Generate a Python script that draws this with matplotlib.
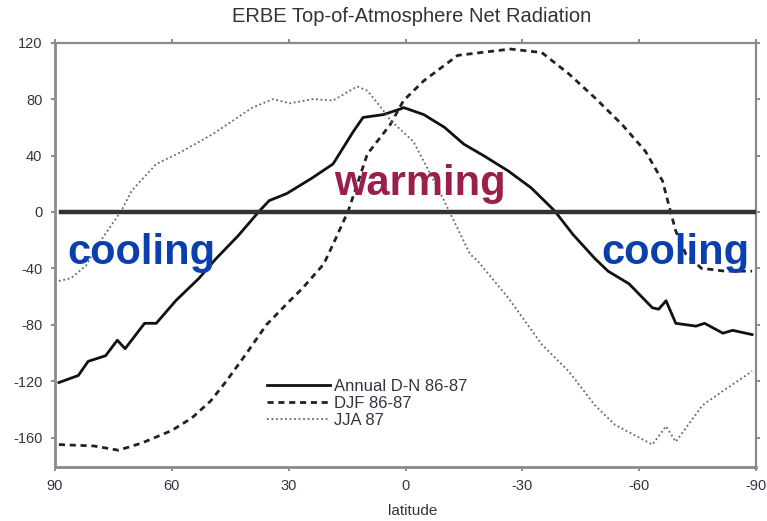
import matplotlib
matplotlib.use("Agg")
import matplotlib.pyplot as plt

plt.rcParams["font.family"] = ["Liberation Sans", "DejaVu Sans"]

# Annual D-N 86-87 (solid)
ann_lat = [89, 84, 81.5, 77, 74, 72, 67, 64, 59, 53, 48.6, 43, 37.5, 35, 30.5, 24, 18.6, 13.4,
           10.9, 5.7, 1.3, 0.5, -4.7, -10, -15, -20, -26.4, -32.3, -38.3, -43, -48.6, -52, -57.4,
           -63.4, -65, -66.9, -69.4, -74.6, -76.8, -81.5, -84, -89]
ann_val = [-121, -116, -106, -102, -91, -97, -79, -79, -63, -47, -33, -17, 0.7, 8, 13, 24, 34, 57,
           67, 69, 73, 74, 69, 60, 48, 40, 29, 17, 0.7, -16, -33, -42, -51,
           -68, -69, -63, -79, -81, -79, -86, -84, -87]

# DJF 86-87 (dashed)
djf_lat = [89, 80, 73.7, 67.8, 60, 54.8, 50, 46, 41, 35.7, 29.7, 26.4, 21, 18.6, 14.7, 9.8, 3.9,
           0.5, -4.7, -13.4, -19.3, -27, -35, -41.9, -48.6, -55.6, -61.6, -66, -68, -69.4, -72,
           -76, -82, -89]
djf_val = [-165, -166, -169, -164, -155, -146, -134, -120, -101, -80, -63, -54, -37, -23, 0.7, 41, 62,
           79, 93, 111, 113, 115.5, 113, 98, 81, 62, 43, 22, 0.7, -13.5, -30,
           -40, -42, -42]

# JJA 87 (dotted)
jja_lat = [89, 85.9, 82, 78.9, 73, 70.3, 64, 58, 49.6, 39.3, 34, 29.7, 23.8, 18.6, 12.4, 9.8, 5.7,
           3.9, -2, -9, -16.6, -18.6, -26.4, -35, -41.9, -48.6, -53.8, -63.4, -66.9, -69.4,
           -76.3, -81.5, -89]
jja_val = [-49, -47, -38, -23, 0.7, 15, 34, 42, 55, 74, 80, 77, 80, 79, 89, 86, 72,
           65, 50, 13, -30, -35, -61, -94, -113, -137, -151, -165, -152, -163,
           -137, -127, -113]

xticks = [90, 60, 30, 0, -30, -60, -90]
yticks = [120, 80, 40, 0, -40, -80, -120, -160]

fig = plt.figure(figsize=(7.67, 5.21), dpi=100)
ax = fig.add_axes([55/767, 1-466.7/521, (756-55)/767, (466.7-42.7)/521])

ax.plot(ann_lat, ann_val, color="#111111", lw=2.0, ls="-", label="Annual D-N 86-87")
ax.plot(djf_lat, djf_val, color="#222222", lw=2.0, ls=(0, (2.2, 1.7)), label="DJF 86-87")
ax.plot(jja_lat, jja_val, color="#666666", lw=1.3, ls=(0, (1, 1.5)), label="JJA 87")

ax.axhline(0, xmin=0.008, xmax=1.0, color="#333333", lw=3.2, zorder=5)

ax.set_xlim(90, -90)
ax.set_ylim(-180.7, 120)
ax.set_xticks(xticks)
ax.set_xticklabels([str(v) for v in xticks])
ax.set_yticks(yticks)
ax.set_yticklabels([str(v) for v in yticks])

for side, sp in ax.spines.items():
    sp.set_color("#8a8a8a")
    sp.set_linewidth(2.0 if side in ("left", "bottom") else 1.6)

ax.tick_params(axis="both", which="both", direction="out", length=3, width=1.2,
               color="#777777", labelsize=10.5, labelcolor="#333344",
               top=True, right=True, labeltop=False, labelright=False)
ax.tick_params(axis="x", pad=6)
ax.tick_params(axis="y", pad=6)

fig.text(412/767, 1-17/521, "ERBE Top-of-Atmosphere Net Radiation", ha="center", va="center",
         fontsize=14.5, color="#333333")
fig.text(413/767, 1-511/521, "latitude", ha="center", va="center", fontsize=11, color="#333344")

ax.text(67.7, -29, "cooling", color="#0b3fae", fontsize=30, fontweight="bold",
        ha="center", va="center", zorder=6)
ax.text(-69.2, -29, "cooling", color="#0b3fae", fontsize=30, fontweight="bold",
        ha="center", va="center", zorder=6)
ax.text(-3.7, 20, "warming", color="#9a1f4b", fontsize=30, fontweight="bold",
        ha="center", va="center", zorder=6)

leg = ax.legend(loc="upper left", bbox_to_anchor=(0.302, 0.207), frameon=False, fontsize=12,
                handlelength=3.8, handletextpad=0.25, labelspacing=0.12, borderaxespad=0,
                borderpad=0)
for t in leg.get_texts():
    t.set_color("#333344")

fig.savefig("out.png", dpi=100)
